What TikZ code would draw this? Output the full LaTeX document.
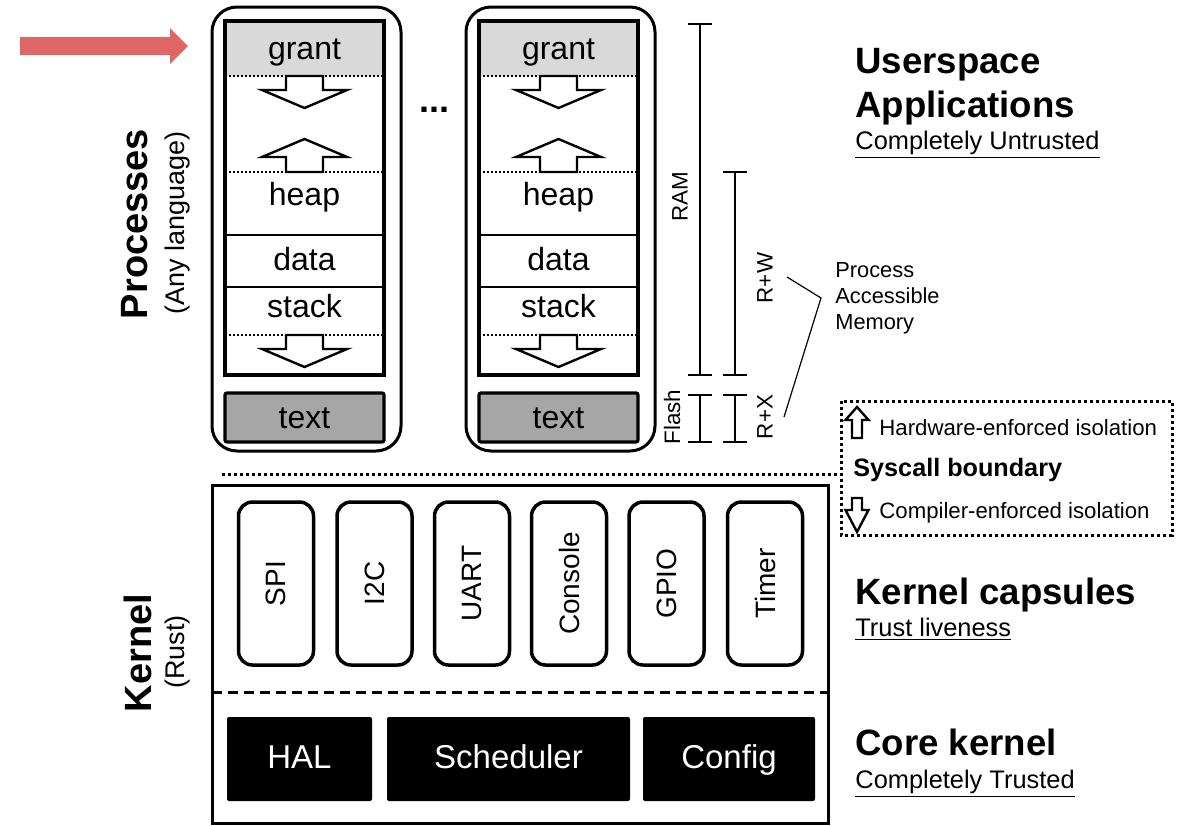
\documentclass[tikz,border=0pt]{standalone}
\usepackage{fontspec}
\setmainfont{Liberation Sans}
\definecolor{grantgray}{HTML}{D9D9D9}
\definecolor{textgray}{HTML}{A6A6A6}
\definecolor{pointer}{HTML}{E06666}
\begin{document}
\begin{tikzpicture}[x=0.5pt,y=-0.5pt,
  thickbox/.style={line width=1.6pt},
  dots/.style={line width=1pt, dash pattern=on 1pt off 1pt},
  bigdots/.style={line width=1.5pt, dash pattern=on 1.5pt off 1.5pt},
  blockarrow/.style={draw, fill=white, line width=1.2pt, line join=miter},
  seg/.style={anchor=base, inner sep=0pt, font=\fontsize{16}{19}\selectfont},
  ruler/.style={line width=1pt},
  rulerlabel/.style={rotate=90, inner sep=0pt, font=\fontsize{11.2}{13}\selectfont},
  capsule/.style={draw, line width=1.75pt, rounded corners=7pt, minimum width=37.5pt,
    minimum height=81.5pt, inner sep=0pt, font=\fontsize{14}{16}\selectfont},
  core/.style={fill=black, text=white, rounded corners=1pt, minimum height=42pt,
    inner sep=0pt, text height=11.8pt, text depth=2.8pt, font=\fontsize{16.5}{19}\selectfont},
  title/.style={anchor=base west, inner sep=0pt, font=\bfseries\fontsize{18.3}{22}\selectfont},
  subtitle/.style={anchor=base west, inner sep=0pt, font=\fontsize{12.7}{15}\selectfont},
  side/.style={rotate=90, inner sep=0pt, font=\bfseries\fontsize{19}{22}\selectfont},
  sidenote/.style={rotate=90, inner sep=0pt, font=\fontsize{13.5}{16}\selectfont},
  legend/.style={anchor=west, inner sep=0pt, font=\fontsize{11.1}{13}\selectfont},
  blockdown/.pic={\draw[blockarrow] (-18.5,0) -- (18.5,0) -- (18.5,14) -- (42.5,14)
    -- (0,32) -- (-42.5,14) -- (-18.5,14) -- cycle;},
  blockup/.pic={\draw[blockarrow] (-18.5,0) -- (18.5,0) -- (18.5,-15) -- (42.5,-15)
    -- (0,-33) -- (-42.5,-15) -- (-18.5,-15) -- cycle;},
  smallup/.pic={\draw[blockarrow] (0,0) -- (11.5,13) -- (5,13) -- (5,31) -- (-5,31)
    -- (-5,13) -- (-11.5,13) -- cycle;},
  smalldown/.pic={\draw[blockarrow] (-5,0) -- (5,0) -- (5,12) -- (11.5,12) -- (0,34)
    -- (-11.5,12) -- (-5,12) -- cycle;},
]
\useasboundingbox (0,0) rectangle (1183,825);

% pointer arrow
\fill[pointer] (20,37) -- (170,37) -- (170,28) -- (188,46) -- (170,64) -- (170,55) -- (20,55) -- cycle;

% two process memory layouts
\foreach \s/\n in {0/1,254/2} {
  \begin{scope}[shift={(\s,0)}]
    \draw[line width=1.5pt, rounded corners=12.5pt] (212,7) rectangle (401,451);
    \fill[grantgray] (225,21) rectangle (384,76);
    \draw[dots] (225,76) -- (384,76) (225,172) -- (384,172) (225,335) -- (384,335);
    \draw[line width=0.6pt] (225,235) -- (384,235) (225,287) -- (384,287);
    \draw[thickbox] (225,21) rectangle (384,375);
    \pic at (304.5,76) {blockdown};
    \pic at (304.5,172) {blockup};
    \pic at (304.5,335) {blockdown};
    \draw[thickbox, fill=textgray, rounded corners=1pt] (225,393) rectangle (384,442);
    \node[seg] (grant\n) at (304.5,59) {grant};
    \node[seg] (heap\n) at (304.5,205) {heap};
    \node[seg] (data\n) at (304.5,270) {data};
    \node[seg] (stack\n) at (304.5,317) {stack};
    \node[seg] (text\n) at (304.5,428) {text};
  \end{scope}
}
\node[inner sep=0pt, font=\bfseries\fontsize{18}{20}\selectfont] (more) at (434,110) {...};

% memory rulers
\draw[ruler] (688,24) -- (712,24) (700,24) -- (700,375) (688,375) -- (712,375);
\draw[ruler] (688,395) -- (712,395) (700,395) -- (700,442) (688,442) -- (712,442);
\draw[ruler] (723,172) -- (747,172) (735,172) -- (735,375) (723,375) -- (747,375);
\draw[ruler] (723,395) -- (747,395) (735,395) -- (735,442) (723,442) -- (747,442);
\node[rulerlabel] (ram) at (680,197) {RAM};
\node[rulerlabel] (flash) at (672,417) {Flash};
\node[rulerlabel] (rw) at (765,278) {R+W};
\node[rulerlabel] (rx) at (765,417) {R+X};

\node[anchor=west, align=left, inner sep=0pt, font=\fontsize{10.9}{13}\selectfont] (pam)
  at (835,298) {Process\\Accessible\\Memory};
\coordinate (rwend) at (787,277);
\coordinate (join) at (821,298);
\coordinate (rxend) at (784,417);
\draw[line width=0.6pt] (rwend) -- (join) -- (rxend);

% syscall boundary and legend
\draw[bigdots] (222,474) -- (840,474);
\draw[bigdots] (841,401) rectangle (1172,535);
\pic at (857,407) {smallup};
\pic at (857,498) {smalldown};
\node[legend] (hw) at (879,428) {Hardware-enforced isolation};
\node[legend, font=\bfseries\fontsize{12.6}{15}\selectfont] (sys) at (853,470) {Syscall boundary};
\node[legend] (cc) at (879,513) {Compiler-enforced isolation};

% kernel
\draw[line width=1.5pt] (212,485) rectangle (828,823);
\draw[line width=1.5pt, dash pattern=on 5pt off 3pt] (212,692) -- (828,692);
\node[capsule] (spi) at (276,583.5) {\rotatebox{90}{SPI}};
\node[capsule] (i2c) at (374.5,583.5) {\rotatebox{90}{I2C}};
\node[capsule] (uart) at (472,583.5) {\rotatebox{90}{UART}};
\node[capsule] (console) at (569,583.5) {\rotatebox{90}{Console}};
\node[capsule] (gpio) at (666.5,583.5) {\rotatebox{90}{GPIO}};
\node[capsule] (timer) at (765,583.5) {\rotatebox{90}{Timer}};
\node[core, minimum width=72.5pt] (hal) at (299.5,759) {HAL};
\node[core, minimum width=121.5pt] (sched) at (508.5,759) {Scheduler};
\node[core, minimum width=86pt] (config) at (729,759) {Config};

% side labels
\node[side] (procs) at (135,224) {Processes};
\node[sidenote] (anylang) at (178,223) {(Any language)};
\node[side] (kernel) at (138,653) {Kernel};
\node[sidenote] (rust) at (178,652) {(Rust)};

% layer titles
\node[title] (user1) at (855,73) {Userspace};
\node[title] (user2) at (855,117) {Applications};
\node[subtitle] (usersub) at (855,149) {\underline{Completely Untrusted}};
\node[title] (caps) at (855,604) {Kernel capsules};
\node[subtitle] (capssub) at (855,636) {\underline{Trust liveness}};
\node[title] (core) at (855,755) {Core kernel};
\node[subtitle] (coresub) at (855,788) {\underline{Completely Trusted}};
\end{tikzpicture}
\end{document}
